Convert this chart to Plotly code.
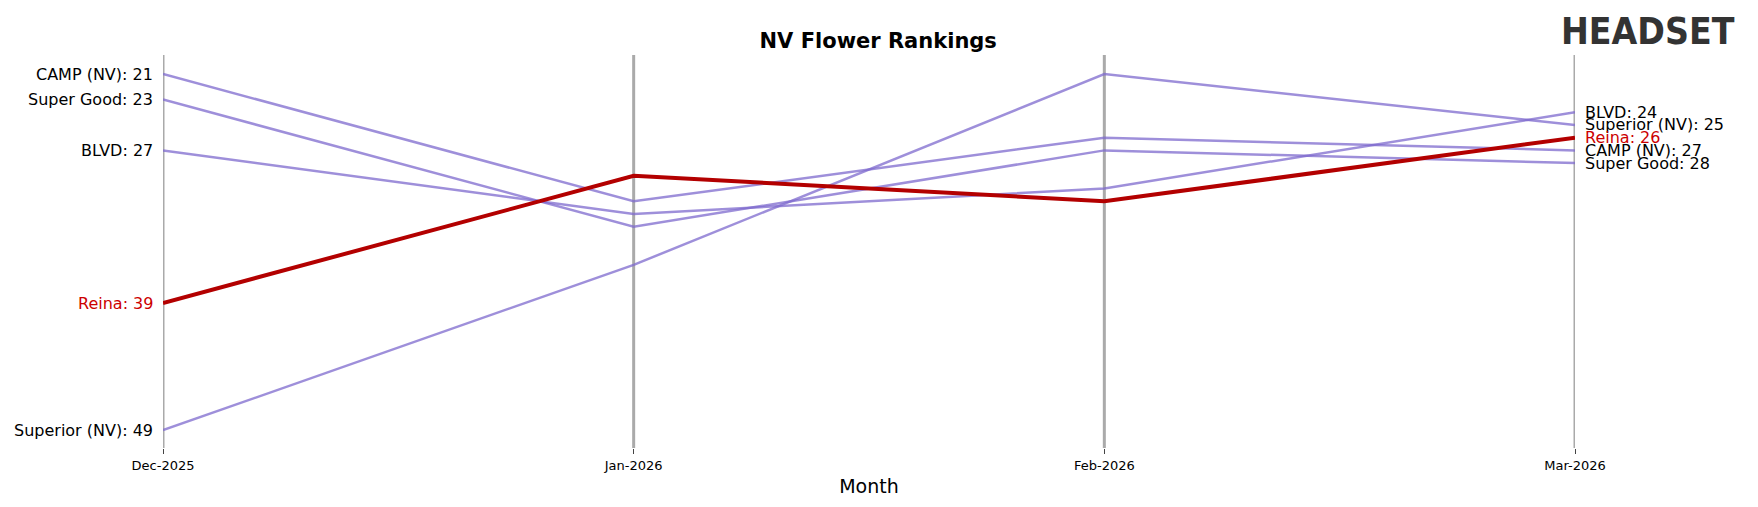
import plotly.graph_objects as go

months = ['Dec-2025', 'Jan-2026', 'Feb-2026', 'Mar-2026']
brands = ['CAMP (NV)', 'Super Good', 'BLVD', 'Superior (NV)', 'Reina']
ranks = {
    'CAMP (NV)': [21, 31, 26, 27],
    'Super Good': [23, 33, 27, 28],
    'BLVD': [27, 32, 30, 24],
    'Superior (NV)': [49, 36, 21, 25],
    'Reina': [39, 29, 31, 26],
}
highlight = 'Reina'

fig = go.Figure()
x = list(range(len(months)))

for b in brands:
    hl = b == highlight
    fig.add_trace(go.Scatter(
        x=x, y=ranks[b], mode='lines', name=b,
        line=dict(color='#b30000' if hl else 'rgba(125,105,205,0.75)', width=4 if hl else 2.5),
    ))

# month guide lines
for i in x:
    fig.add_vline(x=i, line_color='#aaaaaa', line_width=3, layer='below')

# end labels
for b in brands:
    col = '#cc0000' if b == highlight else 'black'
    fig.add_annotation(x=0, y=ranks[b][0], text=f'{b}: {ranks[b][0]}', xanchor='right',
                       xshift=-8, showarrow=False, font=dict(size=16, color=col))
    fig.add_annotation(x=3, y=ranks[b][-1], text=f'{b}: {ranks[b][-1]}', xanchor='left',
                       xshift=8, showarrow=False, font=dict(size=16, color=col))

fig.add_annotation(xref='paper', yref='paper', x=1.115, y=1.12, text='<b>HEADSET</b>',
                   showarrow=False, xanchor='right', yanchor='top',
                   font=dict(size=37, color='#333333', family='DejaVu Sans Condensed'))

fig.update_layout(
    width=1758, height=507,
    margin=dict(l=155, r=191, t=47, b=67),
    plot_bgcolor='white', paper_bgcolor='white',
    showlegend=False,
    font=dict(family='DejaVu Sans', color='black'),
    title=dict(text='<b>NV Flower Rankings</b>', x=0.495, xanchor='center', y=0.95, font=dict(size=21)),
    xaxis=dict(range=[0, 3], tickvals=x, ticktext=months, showgrid=False, zeroline=False,
               ticks='outside', ticklen=5, tickfont=dict(size=13), title=dict(text='Month', font=dict(size=19), standoff=8)),
    yaxis=dict(range=[50.4, 19.5], visible=False),
)

fig.write_html('out.html')
